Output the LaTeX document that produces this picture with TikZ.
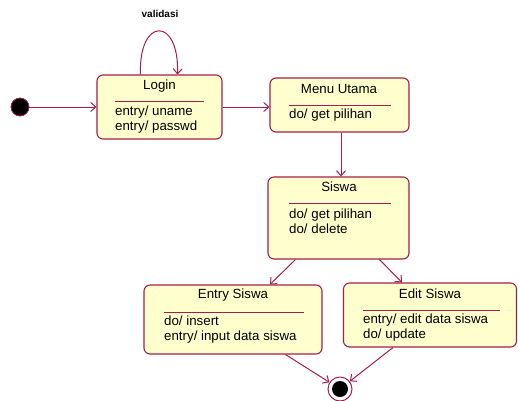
\documentclass[tikz,border=0pt]{standalone}
\usepackage{fontspec}
\setmainfont{Liberation Sans}
\usetikzlibrary{arrows.meta,calc}
\definecolor{umlline}{RGB}{165,30,75}
\definecolor{umlfill}{RGB}{255,255,206}
\begin{document}
\begin{tikzpicture}[x=1pt,y=-1pt,
  statebox/.style={draw=umlline,fill=umlfill,line width=1.1pt,rounded corners=6pt,inner sep=0pt},
  title/.style={font=\fontsize{13.3}{15}\selectfont,anchor=center,inner sep=0pt},
  body/.style={font=\fontsize{13.3}{15}\selectfont,anchor=west,inner sep=0pt,align=left},
  sep/.style={draw=umlline,line width=1pt},
  trans/.style={draw=umlline,line width=1pt,-{Straight Barb[length=5pt,width=9pt]}},
]
\useasboundingbox (0,0) rectangle (518,400);
% states
\node[statebox,minimum width=125pt,minimum height=64pt] (login) at (159.5,107) {};
\node[statebox,minimum width=139pt,minimum height=54pt] (menu) at (339.5,105) {};
\node[statebox,minimum width=141pt,minimum height=82pt] (siswa) at (338.5,218) {};
\node[statebox,minimum width=178pt,minimum height=69pt] (entry) at (233,319.5) {};
\node[statebox,minimum width=173pt,minimum height=64pt] (edit) at (430,315) {};
% initial & final
\node[circle,fill=black,draw=umlline,line width=0.8pt,minimum size=18pt,inner sep=0pt] (init) at (20,107) {};
\node[circle,draw=umlline,fill=white,line width=1pt,minimum size=24pt,inner sep=0pt] (final) at (340,389) {};
\node[circle,fill=black,minimum size=16pt,inner sep=0pt] (finalin) at (final.center) {};
% texts
\node[title] (tlogin) at (159.5,86) {Login};
\draw[sep] (115,101) -- (204,101);
\node[body] (blogin) at (115,119.5) {entry/ uname\\entry/ passwd};

\node[title] (tmenu) at (339,89) {Menu Utama};
\draw[sep] (289,105) -- (391,105);
\node[body] (bmenu) at (289,115) {do/ get pilihan};

\node[title] (tsiswa) at (339,187) {Siswa};
\draw[sep] (289,203) -- (391,203);
\node[body] (bsiswa) at (289,221) {do/ get pilihan\\do/ delete};

\node[title] (tentry) at (233,295) {Entry Siswa};
\draw[sep] (164,312) -- (304,312);
\node[body] (bentry) at (164,329.5) {do/ insert\\entry/ input data siswa};

\node[title] (tedit) at (430,294) {Edit Siswa};
\draw[sep] (363,310) -- (500,310);
\node[body] (bedit) at (363,327.5) {entry/ edit data siswa\\do/ update};

\node[font=\fontsize{10}{11}\selectfont\bfseries,inner sep=0pt] (lval) at (160,14) {validasi};
% transitions
\draw[trans] (init) -- (init -| login.west);
\draw[trans] (login.east) -- (login.east -| menu.west);
\draw[trans] ($(login.north west)+(44,0)$) .. controls +(-2,-58) and +(2,-58) .. ($(login.north west)+(81,0)$);
\draw[trans] ($(menu.south)+(1.5,0)$) -- ($(menu.south |- siswa.north)+(1.5,0)$);
\draw[trans] ($(siswa.south west)+(28,0)$) -- ($(entry.north)+(37,0)$);
\draw[trans] ($(siswa.south west)+(112,0)$) -- ($(edit.north west)+(59,0)$);
\draw[trans] ($(entry.south east)+(-37,0)$) -- (final);
\draw[trans] ($(edit.south west)+(50,0)$) -- (final);
\end{tikzpicture}
\end{document}
